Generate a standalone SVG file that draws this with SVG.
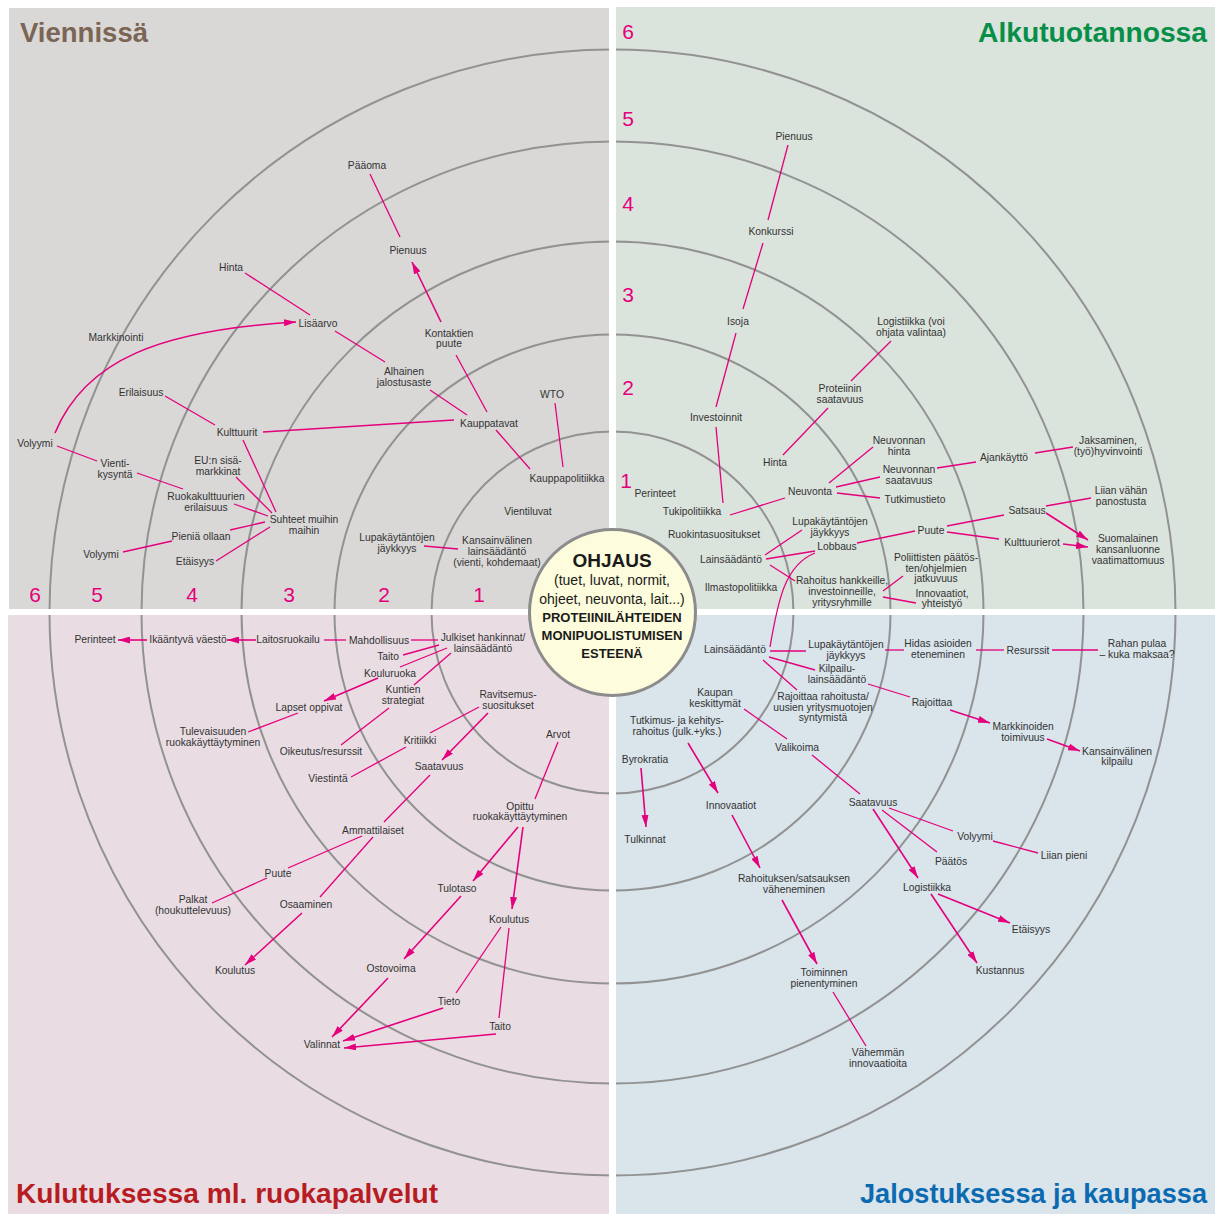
<svg xmlns="http://www.w3.org/2000/svg" width="1215" height="1214" viewBox="0 0 1215 1214">
<style>
.t{font-family:"Liberation Sans",Arial,sans-serif;font-size:10.3px;fill:#333;text-anchor:middle}
.num{font-family:"Liberation Sans",Arial,sans-serif;font-size:21px;fill:#e4007c;text-anchor:middle}
.title{font-family:"Liberation Sans",Arial,sans-serif;font-size:27px;font-weight:bold}
.ring{fill:none;stroke:#929292;stroke-width:2}
.c{fill:none;stroke:#e4007c;stroke-width:1.3}
.a{stroke-width:1.6;marker-end:url(#ah)}
.ct{font-family:"Liberation Sans",Arial,sans-serif;fill:#1a1a1a;text-anchor:middle}
</style>
<defs>
<marker id="ah" viewBox="0 0 12 7" refX="12" refY="3.5" markerWidth="12" markerHeight="7" markerUnits="userSpaceOnUse" orient="auto">
<path d="M0,0 L12,3.5 L0,7 z" fill="#e4007c"/>
</marker>
</defs>
<rect x="0" y="0" width="1215" height="1214" fill="#fff"/>
<g id="backgrounds">
<rect x="9" y="8" width="600" height="601" fill="#d9d8d7"/>
<rect x="616" y="7" width="599" height="602" fill="#dbe3dd"/>
<rect x="8" y="615" width="601" height="599" fill="#e9dde3"/>
<rect x="616" y="615" width="599" height="599" fill="#d9e4eb"/>
</g>
<g id="rings">
<circle class="ring" cx="612.5" cy="612.5" r="181"/>
<circle class="ring" cx="612.5" cy="612.5" r="278"/>
<circle class="ring" cx="612.5" cy="612.5" r="371"/>
<circle class="ring" cx="612.5" cy="612.5" r="471"/>
<circle class="ring" cx="612.5" cy="612.5" r="563"/>
</g>
<g id="gaps">
<rect x="609" y="0" width="7" height="1214" fill="#fff"/>
<rect x="0" y="609" width="1215" height="6" fill="#fff"/>
</g>
<g id="titles">
<text class="title" x="20" y="42" fill="#7b6554" textLength="128" lengthAdjust="spacingAndGlyphs">Viennissä</text>
<text class="title" x="978" y="42" fill="#078f47" textLength="229" lengthAdjust="spacingAndGlyphs">Alkutuotannossa</text>
<text class="title" x="16" y="1203" fill="#b81c23" textLength="422" lengthAdjust="spacingAndGlyphs">Kulutuksessa ml. ruokapalvelut</text>
<text class="title" x="860" y="1203" fill="#0b6ab0" textLength="347" lengthAdjust="spacingAndGlyphs">Jalostuksessa ja kaupassa</text>
</g>
<g id="numbers">
<text class="num" x="628" y="39">6</text>
<text class="num" x="628" y="126">5</text>
<text class="num" x="628" y="211">4</text>
<text class="num" x="628" y="302">3</text>
<text class="num" x="628" y="395">2</text>
<text class="num" x="626" y="488">1</text>
<text class="num" x="35" y="602">6</text>
<text class="num" x="97" y="602">5</text>
<text class="num" x="192" y="602">4</text>
<text class="num" x="289" y="602">3</text>
<text class="num" x="384" y="602">2</text>
<text class="num" x="479" y="602">1</text>
</g>
<g id="connectors">
<path class="c" d="M370,174 L400,237"/>
<path class="c a" d="M441,322 L412,262"/>
<path class="c" d="M245,273 L310,315"/>
<path class="c" d="M335,331 L385,362"/>
<path class="c" d="M430,390 L467,415"/>
<path class="c" d="M456,355 L487,412"/>
<path class="c" d="M555,403 L563,467"/>
<path class="c" d="M496,430 L530,469"/>
<path class="c" d="M263,432 L454,420"/>
<path class="c a" d="M55,433 C85,360 160,330 296,322"/>
<path class="c" d="M165,396 L215,425"/>
<path class="c" d="M243,440 L276,512"/>
<path class="c" d="M236,477 L272,513"/>
<path class="c" d="M234,504 L268,516"/>
<path class="c" d="M230,530 L265,522"/>
<path class="c" d="M216,561 L270,527"/>
<path class="c" d="M123,552 L172,541"/>
<path class="c" d="M57,446 L97,461"/>
<path class="c" d="M137,473 L183,489"/>
<path class="c" d="M424,546 L458,549"/>
<path class="c" d="M788,145 L768,220"/>
<path class="c" d="M763,243 L743,309"/>
<path class="c" d="M736,333 L716,407"/>
<path class="c" d="M716,427 L723,503"/>
<path class="c" d="M891,341 L851,381"/>
<path class="c" d="M828,408 L783,455"/>
<path class="c" d="M785,498 L730,515"/>
<path class="c" d="M829,483 L873,447"/>
<path class="c" d="M836,487 L880,477"/>
<path class="c" d="M837,493 L880,498"/>
<path class="c" d="M937,468 L976,462"/>
<path class="c" d="M1035,453 L1073,447"/>
<path class="c" d="M765,555 L802,530"/>
<path class="c" d="M766,559 L815,551"/>
<path class="c" d="M770,565 L795,581"/>
<path class="c" d="M815,553 C785,565 778,600 770,647"/>
<path class="c" d="M857,543 L915,531"/>
<path class="c" d="M947,526 L1004,515"/>
<path class="c" d="M947,532 L999,539"/>
<path class="c" d="M1046,506 L1091,498"/>
<path class="c a" d="M1046,513 L1088,540"/>
<path class="c a" d="M1063,544 L1088,547"/>
<path class="c" d="M883,591 L903,576"/>
<path class="c" d="M883,597 L916,603"/>
<path class="c" d="M770,651 L806,651"/>
<path class="c" d="M885,650 L904,650"/>
<path class="c" d="M976,650 L1004,650"/>
<path class="c" d="M1052,650 L1098,650"/>
<path class="c" d="M769,657 L815,670"/>
<path class="c" d="M868,684 L910,697"/>
<path class="c" d="M763,660 L797,690"/>
<path class="c a" d="M950,710 L990,723"/>
<path class="c a" d="M1047,739 L1080,751"/>
<path class="c" d="M744,709 L787,739"/>
<path class="c" d="M812,755 L860,794"/>
<path class="c a" d="M688,743 L718,793"/>
<path class="c a" d="M641,768 L646,827"/>
<path class="c a" d="M732,815 L760,868"/>
<path class="c a" d="M782,900 L817,964"/>
<path class="c" d="M833,992 L866,1046"/>
<path class="c" d="M889,808 L953,831"/>
<path class="c" d="M882,810 L937,852"/>
<path class="c a" d="M873,809 L918,878"/>
<path class="c" d="M993,841 L1038,853"/>
<path class="c a" d="M938,894 L1010,923"/>
<path class="c a" d="M931,894 L977,963"/>
<path class="c" d="M438,640 L411,640"/>
<path class="c" d="M346,640 L324,640"/>
<path class="c a" d="M256,640 L227,640"/>
<path class="c a" d="M147,640 L118,640"/>
<path class="c" d="M439,645 L403,655"/>
<path class="c" d="M447,648 L400,667"/>
<path class="c" d="M451,653 L414,685"/>
<path class="c a" d="M378,678 L324,701"/>
<path class="c" d="M298,713 L248,732"/>
<path class="c" d="M389,708 L341,745"/>
<path class="c" d="M479,707 L430,733"/>
<path class="c a" d="M488,713 L442,760"/>
<path class="c" d="M406,747 L351,777"/>
<path class="c" d="M558,742 L535,799"/>
<path class="c" d="M430,775 L384,822"/>
<path class="c" d="M362,836 L288,868"/>
<path class="c" d="M373,837 L320,897"/>
<path class="c" d="M267,878 L212,903"/>
<path class="c a" d="M302,913 L245,965"/>
<path class="c a" d="M518,827 L473,881"/>
<path class="c a" d="M523,827 L512,909"/>
<path class="c a" d="M461,896 L404,959"/>
<path class="c" d="M501,927 L456,993"/>
<path class="c" d="M509,928 L499,1018"/>
<path class="c a" d="M388,978 L332,1037"/>
<path class="c a" d="M443,1008 L343,1041"/>
<path class="c a" d="M496,1034 L344,1048"/>
</g>
<g id="center">
<circle cx="612.5" cy="612.5" r="83" fill="#fdfcdc" stroke="#8c8c8c" stroke-width="3"/>
<text class="ct" x="612" y="567" font-size="19" font-weight="bold">OHJAUS</text>
<text class="ct" x="612" y="585" font-size="14">(tuet, luvat, normit,</text>
<text class="ct" x="612" y="604" font-size="14">ohjeet, neuvonta, lait...)</text>
<text class="ct" x="612" y="622" font-size="13" font-weight="bold">PROTEIINILÄHTEIDEN</text>
<text class="ct" x="612" y="640" font-size="13" font-weight="bold">MONIPUOLISTUMISEN</text>
<text class="ct" x="612" y="658" font-size="13" font-weight="bold">ESTEENÄ</text>
</g>
<g id="nodes-vienti">
<g id="v-paaoma"><text class="t" x="367" y="169">Pääoma</text></g>
<g id="v-pienuus"><text class="t" x="408" y="254">Pienuus</text></g>
<g id="v-lisaarvo"><text class="t" x="318" y="327">Lisäarvo</text></g>
<g id="v-kontaktien"><text class="t" x="449" y="337">Kontaktien<tspan x="449" y="347">puute</tspan></text></g>
<g id="v-alhainen"><text class="t" x="404" y="375">Alhainen<tspan x="404" y="386">jalostusaste</tspan></text></g>
<g id="v-wto"><text class="t" x="552" y="398">WTO</text></g>
<g id="v-hinta"><text class="t" x="231" y="271">Hinta</text></g>
<g id="v-markkinointi"><text class="t" x="116" y="341">Markkinointi</text></g>
<g id="v-erilaisuus"><text class="t" x="141" y="396">Erilaisuus</text></g>
<g id="v-kulttuurit"><text class="t" x="237" y="436">Kulttuurit</text></g>
<g id="v-volyymi1"><text class="t" x="35" y="447">Volyymi</text></g>
<g id="v-vientikysynta"><text class="t" x="115" y="467">Vienti-<tspan x="115" y="478">kysyntä</tspan></text></g>
<g id="v-eu"><text class="t" x="218" y="464">EU:n sisä-<tspan x="218" y="475">markkinat</tspan></text></g>
<g id="v-ruokakulttuurien"><text class="t" x="206" y="500">Ruokakulttuurien<tspan x="206" y="511">erilaisuus</tspan></text></g>
<g id="v-suhteet"><text class="t" x="304" y="523">Suhteet muihin<tspan x="304" y="534">maihin</tspan></text></g>
<g id="v-pienia"><text class="t" x="201" y="540">Pieniä ollaan</text></g>
<g id="v-volyymi2"><text class="t" x="101" y="558">Volyymi</text></g>
<g id="v-etaisyys"><text class="t" x="195" y="565">Etäisyys</text></g>
<g id="v-kauppatavat"><text class="t" x="489" y="427">Kauppatavat</text></g>
<g id="v-kauppapolitiikka"><text class="t" x="567" y="482">Kauppapolitiikka</text></g>
<g id="v-vientiluvat"><text class="t" x="528" y="515">Vientiluvat</text></g>
<g id="v-lupa"><text class="t" x="397" y="541">Lupakäytäntöjen<tspan x="397" y="552">jäykkyys</tspan></text></g>
<g id="v-kansainvalinen"><text class="t" x="497" y="544">Kansainvälinen<tspan x="497" y="555">lainsäädäntö</tspan><tspan x="497" y="566">(vienti, kohdemaat)</tspan></text></g>
</g>
<g id="nodes-alku">
<g id="a-pienuus"><text class="t" x="794" y="140">Pienuus</text></g>
<g id="a-konkurssi"><text class="t" x="771" y="235">Konkurssi</text></g>
<g id="a-isoja"><text class="t" x="738" y="325">Isoja</text></g>
<g id="a-logistiikka"><text class="t" x="911" y="325">Logistiikka (voi<tspan x="911" y="336">ohjata valintaa)</tspan></text></g>
<g id="a-proteiinin"><text class="t" x="840" y="392">Proteiinin<tspan x="840" y="403">saatavuus</tspan></text></g>
<g id="a-investoinnit"><text class="t" x="716" y="421">Investoinnit</text></g>
<g id="a-hinta"><text class="t" x="775" y="466">Hinta</text></g>
<g id="a-neuvonnanhinta"><text class="t" x="899" y="444">Neuvonnan<tspan x="899" y="455">hinta</tspan></text></g>
<g id="a-neuvonnansaatavuus"><text class="t" x="909" y="473">Neuvonnan<tspan x="909" y="484">saatavuus</tspan></text></g>
<g id="a-tutkimustieto"><text class="t" x="915" y="503">Tutkimustieto</text></g>
<g id="a-neuvonta"><text class="t" x="810" y="495">Neuvonta</text></g>
<g id="a-perinteet"><text class="t" x="655" y="497">Perinteet</text></g>
<g id="a-tukipolitiikka"><text class="t" x="692" y="515">Tukipolitiikka</text></g>
<g id="a-ruokinta"><text class="t" x="714" y="538">Ruokintasuositukset</text></g>
<g id="a-lupa"><text class="t" x="830" y="525">Lupakäytäntöjen<tspan x="830" y="536">jäykkyys</tspan></text></g>
<g id="a-lobbaus"><text class="t" x="837" y="550">Lobbaus</text></g>
<g id="a-lainsaadanto"><text class="t" x="731" y="563">Lainsäädäntö</text></g>
<g id="a-rahoitus"><text class="t" x="842" y="584">Rahoitus hankkeille,<tspan x="842" y="595">investoinneille,</tspan><tspan x="842" y="606">yritysryhmille</tspan></text></g>
<g id="a-ilmasto"><text class="t" x="741" y="591">Ilmastopolitiikka</text></g>
<g id="a-poliittisten"><text class="t" x="936" y="561">Poliittisten päätös-<tspan x="936" y="572">ten/ohjelmien</tspan><tspan x="936" y="582">jatkuvuus</tspan></text></g>
<g id="a-innovaatiot"><text class="t" x="942" y="597">Innovaatiot,<tspan x="942" y="607">yhteistyö</tspan></text></g>
<g id="a-ajankaytto"><text class="t" x="1004" y="461">Ajankäyttö</text></g>
<g id="a-jaksaminen"><text class="t" x="1108" y="444">Jaksaminen,<tspan x="1108" y="455">(työ)hyvinvointi</tspan></text></g>
<g id="a-satsaus"><text class="t" x="1027" y="514">Satsaus</text></g>
<g id="a-liian"><text class="t" x="1121" y="494">Liian vähän<tspan x="1121" y="505">panostusta</tspan></text></g>
<g id="a-puute"><text class="t" x="931" y="534">Puute</text></g>
<g id="a-kulttuurierot"><text class="t" x="1032" y="546">Kulttuurierot</text></g>
<g id="a-suomalainen"><text class="t" x="1128" y="542">Suomalainen<tspan x="1128" y="553">kansanluonne</tspan><tspan x="1128" y="564">vaatimattomuus</tspan></text></g>
</g>
<g id="nodes-kulutus">
<g id="k-perinteet"><text class="t" x="95" y="643">Perinteet</text></g>
<g id="k-ikaantyva"><text class="t" x="188" y="643">Ikääntyvä väestö</text></g>
<g id="k-laitos"><text class="t" x="288" y="643">Laitosruokailu</text></g>
<g id="k-mahdollisuus"><text class="t" x="379" y="644">Mahdollisuus</text></g>
<g id="k-julkiset"><text class="t" x="483" y="641">Julkiset hankinnat/<tspan x="483" y="652">lainsäädäntö</tspan></text></g>
<g id="k-taito1"><text class="t" x="388" y="660">Taito</text></g>
<g id="k-kouluruoka"><text class="t" x="390" y="677">Kouluruoka</text></g>
<g id="k-kuntien"><text class="t" x="403" y="693">Kuntien<tspan x="403" y="704">strategiat</tspan></text></g>
<g id="k-lapset"><text class="t" x="309" y="711">Lapset oppivat</text></g>
<g id="k-ravitsemus"><text class="t" x="508" y="698">Ravitsemus-<tspan x="508" y="709">suositukset</tspan></text></g>
<g id="k-tulevaisuuden"><text class="t" x="213" y="735">Tulevaisuuden<tspan x="213" y="746">ruokakäyttäytyminen</tspan></text></g>
<g id="k-oikeutus"><text class="t" x="321" y="755">Oikeutus/resurssit</text></g>
<g id="k-kritiikki"><text class="t" x="420" y="744">Kritiikki</text></g>
<g id="k-arvot"><text class="t" x="558" y="738">Arvot</text></g>
<g id="k-viestinta"><text class="t" x="328" y="782">Viestintä</text></g>
<g id="k-saatavuus"><text class="t" x="439" y="770">Saatavuus</text></g>
<g id="k-opittu"><text class="t" x="520" y="810">Opittu<tspan x="520" y="820">ruokakäyttäytyminen</tspan></text></g>
<g id="k-ammattilaiset"><text class="t" x="373" y="834">Ammattilaiset</text></g>
<g id="k-puute"><text class="t" x="278" y="877">Puute</text></g>
<g id="k-palkat"><text class="t" x="193" y="903">Palkat<tspan x="193" y="914">(houkuttelevuus)</tspan></text></g>
<g id="k-osaaminen"><text class="t" x="306" y="908">Osaaminen</text></g>
<g id="k-koulutus1"><text class="t" x="235" y="974">Koulutus</text></g>
<g id="k-tulotaso"><text class="t" x="457" y="892">Tulotaso</text></g>
<g id="k-koulutus2"><text class="t" x="509" y="923">Koulutus</text></g>
<g id="k-ostovoima"><text class="t" x="391" y="972">Ostovoima</text></g>
<g id="k-tieto"><text class="t" x="449" y="1005">Tieto</text></g>
<g id="k-taito2"><text class="t" x="500" y="1030">Taito</text></g>
<g id="k-valinnat"><text class="t" x="322" y="1048">Valinnat</text></g>
</g>
<g id="nodes-jalostus">
<g id="j-lainsaadanto"><text class="t" x="735" y="653">Lainsäädäntö</text></g>
<g id="j-lupa"><text class="t" x="846" y="648">Lupakäytäntöjen<tspan x="846" y="659">jäykkyys</tspan></text></g>
<g id="j-hidas"><text class="t" x="938" y="647">Hidas asioiden<tspan x="938" y="658">eteneminen</tspan></text></g>
<g id="j-resurssit"><text class="t" x="1028" y="654">Resurssit</text></g>
<g id="j-rahan"><text class="t" x="1137" y="647">Rahan pulaa<tspan x="1137" y="658">– kuka maksaa?</tspan></text></g>
<g id="j-kilpailu"><text class="t" x="837" y="672">Kilpailu-<tspan x="837" y="683">lainsäädäntö</tspan></text></g>
<g id="j-kaupan"><text class="t" x="715" y="696">Kaupan<tspan x="715" y="707">keskittymät</tspan></text></g>
<g id="j-rajoittaarah"><text class="t" x="823" y="700">Rajoittaa rahoitusta/<tspan x="823" y="711">uusien yritysmuotojen</tspan><tspan x="823" y="721">syntymistä</tspan></text></g>
<g id="j-rajoittaa"><text class="t" x="932" y="706">Rajoittaa</text></g>
<g id="j-markkinoiden"><text class="t" x="1023" y="730">Markkinoiden<tspan x="1023" y="741">toimivuus</tspan></text></g>
<g id="j-kansainvalinen"><text class="t" x="1117" y="755">Kansainvälinen<tspan x="1117" y="765">kilpailu</tspan></text></g>
<g id="j-tutkimus"><text class="t" x="677" y="724">Tutkimus- ja kehitys-<tspan x="677" y="735">rahoitus (julk.+yks.)</tspan></text></g>
<g id="j-byrokratia"><text class="t" x="645" y="763">Byrokratia</text></g>
<g id="j-valikoima"><text class="t" x="797" y="751">Valikoima</text></g>
<g id="j-innovaatiot"><text class="t" x="731" y="809">Innovaatiot</text></g>
<g id="j-saatavuus"><text class="t" x="873" y="806">Saatavuus</text></g>
<g id="j-tulkinnat"><text class="t" x="645" y="843">Tulkinnat</text></g>
<g id="j-volyymi"><text class="t" x="975" y="840">Volyymi</text></g>
<g id="j-paatos"><text class="t" x="951" y="865">Päätös</text></g>
<g id="j-liianpieni"><text class="t" x="1064" y="859">Liian pieni</text></g>
<g id="j-logistiikka"><text class="t" x="927" y="891">Logistiikka</text></g>
<g id="j-rahoituksen"><text class="t" x="794" y="882">Rahoituksen/satsauksen<tspan x="794" y="893">väheneminen</tspan></text></g>
<g id="j-etaisyys"><text class="t" x="1031" y="933">Etäisyys</text></g>
<g id="j-kustannus"><text class="t" x="1000" y="974">Kustannus</text></g>
<g id="j-toiminnen"><text class="t" x="824" y="976">Toiminnen<tspan x="824" y="987">pienentyminen</tspan></text></g>
<g id="j-vahemman"><text class="t" x="878" y="1056">Vähemmän<tspan x="878" y="1067">innovaatioita</tspan></text></g>
</g>
</svg>
